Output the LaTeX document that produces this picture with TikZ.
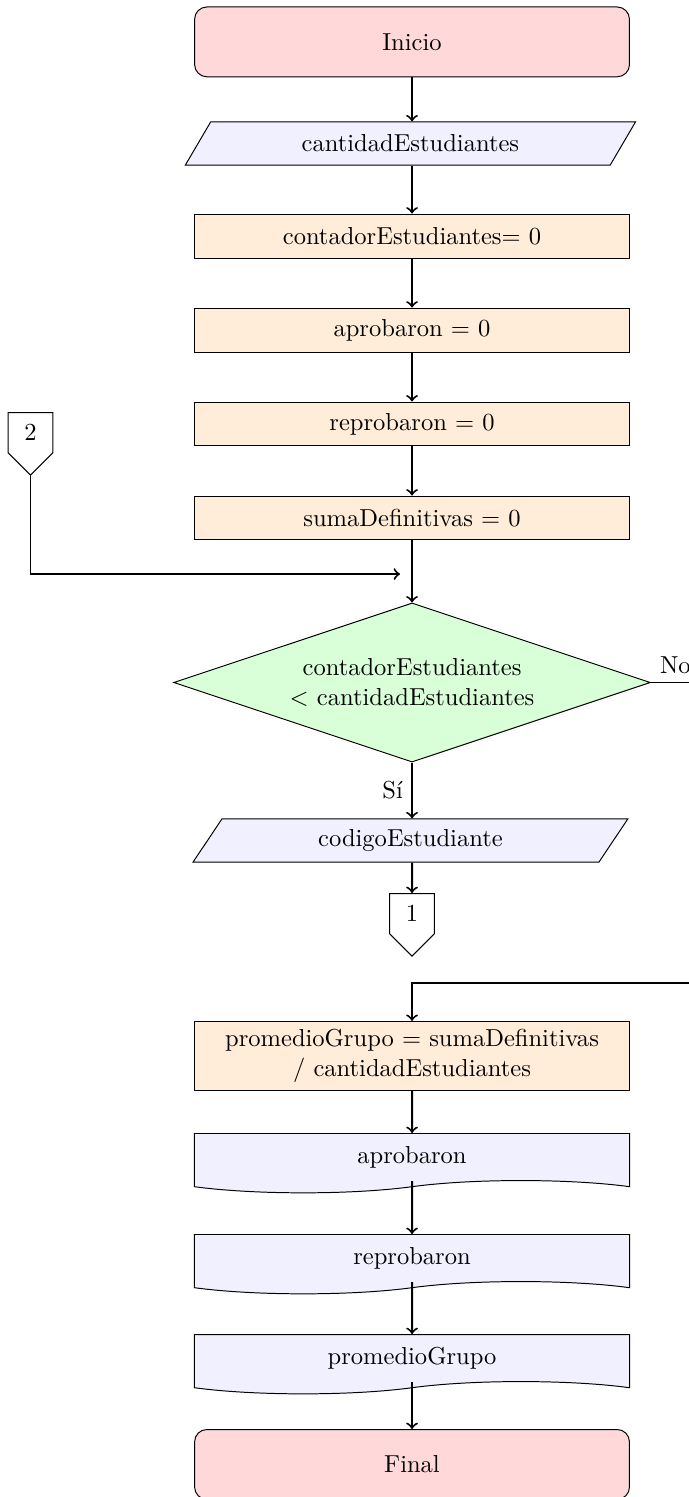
\documentclass[tikz,border=0pt]{standalone}
\usepackage{amsmath}
\usepackage{tikz}
\usetikzlibrary{shapes.geometric, shapes.symbols}

\begin{document}
\begin{tikzpicture}[
  terminal/.style={draw, rounded corners=5pt, fill=red!15, minimum width=6.23cm, minimum height=1cm},
  proceso/.style={draw, fill=orange!15, text width=6cm, align=center, minimum height=0.63cm},
  entrada/.style={draw, trapezium, trapezium left angle=53, trapezium right angle=127, trapezium stretches body, fill=blue!6, minimum height=0.62cm},
  salida/.style={draw, tape, tape bend top=none, tape bend bottom=in and out, fill=blue!6, text width=6cm, align=center, minimum height=0.85cm},
  decision/.style={draw, diamond, aspect=3, fill=green!15, align=center, minimum width=6.83cm, minimum height=2.28cm},
  conector/.style={draw, signal, signal to=south, signal from=nowhere, minimum width=0.64cm, minimum height=0.7cm, inner sep=1pt},
  flujo/.style={->, thick}
]
\useasboundingbox (0,0) rectangle (9.871,-21.447);
\clip (0,0) rectangle (9.871,-21.447);

% Inicio y lectura
\node[terminal] (inicio) at (5.903,-0.6) {Inicio};
\node[entrada, minimum width=6.45cm] (cantidad) at (5.88,-2.056) {cantidadEstudiantes};

% Inicializaciones
\node[proceso] (contador) at (5.903,-3.381) {contadorEstudiantes= 0};
\node[proceso] (apro0) at (5.903,-4.728) {aprobaron $=$ 0};
\node[proceso] (repro0) at (5.903,-6.074) {reprobaron $=$ 0};
\node[proceso] (suma0) at (5.903,-7.421) {sumaDefinitivas $=$ 0};

% Ciclo
\node[conector, anchor=north] (con2) at (0.437,-5.903) {2};
\coordinate (union) at (5.731,-8.224);
\node[decision] (cond) at (5.903,-9.778) {contadorEstudiantes\\$<$ cantidadEstudiantes};
\node[entrada, minimum width=6.23cm] (codigo) at (5.88,-12.042) {codigoEstudiante};
\node[conector, anchor=north] (con1) at (5.903,-12.794) {1};

% Salida del ciclo
\coordinate (retorno) at (10.4,-14.083);
\node[proceso] (promedio) at (5.903,-15.129) {promedioGrupo $=$ sumaDefinitivas\\/ cantidadEstudiantes};
\node[salida, anchor=north] (apro) at (5.903,-16.232) {aprobaron};
\node[salida, anchor=north] (repro) at (5.903,-17.679) {reprobaron};
\node[salida, anchor=north] (promg) at (5.903,-19.112) {promedioGrupo};
\node[terminal, anchor=north] (final) at (5.903,-20.473) {Final};

% Flechas
\draw[flujo] (inicio) -- (cantidad.north -| inicio.south);
\draw[flujo] (cantidad.south -| inicio.south) -- (contador);
\draw[flujo] (contador) -- (apro0);
\draw[flujo] (apro0) -- (repro0);
\draw[flujo] (repro0) -- (suma0);
\draw[flujo] (suma0) -- (cond);
\draw[flujo] (con2.south) |- (union);
\draw[flujo] (cond) -- node[left] {Sí} (codigo.north -| cond.south);
\draw[flujo] (codigo.south -| cond.south) -- (con1);
\draw[flujo] (cond.east) node[above right] {No} -| (retorno) -| (promedio.north);
\draw[flujo] (promedio) -- (apro);
\draw[flujo] (apro.south) -- (repro);
\draw[flujo] (repro.south) -- (promg);
\draw[flujo] (promg.south) -- (final);

\end{tikzpicture}
\end{document}
